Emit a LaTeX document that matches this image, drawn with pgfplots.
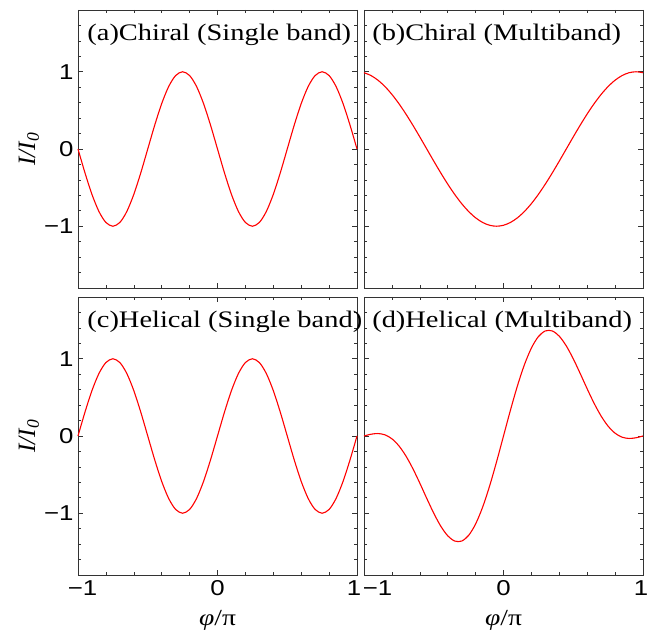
\documentclass[border=0pt]{standalone}
\usepackage{fontspec}
\setmainfont{Liberation Serif}
\newfontfamily\titlefont[FakeStretch=1.2]{Liberation Serif}
\newfontfamily\tickfont[FakeStretch=1.2]{Liberation Sans}
\usepackage{pgfplots}
\usepackage{pgfplotstable}
\pgfplotsset{compat=1.18}
\usepgfplotslibrary{groupplots}

\pgfplotstableread{
x      a         b         c         d
-1     0         0.98769   0         0
-0.95  -0.30902  0.95106   0.30902   0.02280
-0.9   -0.58779  0.89101   0.58779   0.03190
-0.85  -0.80902  0.80902   0.80902   0.01524
-0.8   -0.95106  0.70711   0.95106   -0.03618
-0.75  -1        0.58779   1         -0.12711
-0.7   -0.95106  0.45399   0.95106   -0.25741
-0.65  -0.80902  0.30902   0.80902   -0.42178
-0.6   -0.58779  0.15643   0.58779   -0.61014
-0.55  -0.30902  0         0.30902   -0.80846
-0.5   0         -0.15643  0         -1
-0.45  0.30902   -0.30902  -0.30902  -1.16692
-0.4   0.58779   -0.45399  -0.58779  -1.29198
-0.35  0.80902   -0.58779  -0.80902  -1.36024
-0.3   0.95106   -0.70711  -0.95106  -1.36063
-0.25  1         -0.80902  -1        -1.28711
-0.2   0.95106   -0.89101  -0.95106  -1.13940
-0.15  0.80902   -0.95106  -0.80902  -0.92322
-0.1   0.58779   -0.98769  -0.58779  -0.64994
-0.05  0.30902   -1        -0.30902  -0.33566
0      0         -0.98769  0         0
0.05   -0.30902  -0.95106  0.30902   0.33566
0.1    -0.58779  -0.89101  0.58779   0.64994
0.15   -0.80902  -0.80902  0.80902   0.92322
0.2    -0.95106  -0.70711  0.95106   1.13940
0.25   -1        -0.58779  1         1.28711
0.3    -0.95106  -0.45399  0.95106   1.36063
0.35   -0.80902  -0.30902  0.80902   1.36024
0.4    -0.58779  -0.15643  0.58779   1.29198
0.45   -0.30902  0         0.30902   1.16692
0.5    0         0.15643   0         1
0.55   0.30902   0.30902   -0.30902  0.80846
0.6    0.58779   0.45399   -0.58779  0.61014
0.65   0.80902   0.58779   -0.80902  0.42178
0.7    0.95106   0.70711   -0.95106  0.25741
0.75   1         0.80902   -1        0.12711
0.8    0.95106   0.89101   -0.95106  0.03618
0.85   0.80902   0.95106   -0.80902  -0.01524
0.9    0.58779   0.98769   -0.58779  -0.03190
0.95   0.30902   1         -0.30902  -0.02280
1      0         0.98769   0         0
}\datatable

\begin{document}
\begin{tikzpicture}
\begin{groupplot}[
  group style={group size=2 by 2, horizontal sep=7pt, vertical sep=9pt,
    x descriptions at=edge bottom, y descriptions at=edge left},
  width=279pt, height=278pt, scale only axis,
  xmin=-1, xmax=1, ymin=-1.8, ymax=1.8,
  xtick={-1,0,1}, ytick={-1,0,1},
  yticklabels={−1,0,1},
  minor xtick={-0.8,-0.6,-0.4,-0.2,0.2,0.4,0.6,0.8},
  minor ytick={-1.6,-1.4,-1.2,-0.8,-0.6,-0.4,-0.2,0.2,0.4,0.6,0.8,1.2,1.4,1.6},
  tick align=inside, major tick length=5pt, minor tick length=3pt,
  tick style={black!80, line width=0.6pt},
  axis line style={black!80, line width=0.8pt},
  tick label style={font=\tickfont\fontsize{21.5}{21.5}\selectfont},
  yticklabel style={xshift=-1pt},
  xticklabel style={yshift=-2pt, inner xsep=0pt},
  clip=false,
  mycurve/.style={red, line width=1.1pt, smooth, mark=none},
  xlabel style={font=\titlefont\fontsize{23}{23}\selectfont, at={(axis description cs:0.5,-0.165)}, anchor=center},
  ylabel style={font=\fontsize{25}{25}\selectfont, at={(axis description cs:-0.176,0.5)}, anchor=center},
]
\nextgroupplot[ylabel={\itshape I/I\textsubscript{0}}]
\addplot[mycurve] table[x=x,y=a]{\datatable};
\node[anchor=base west, font=\titlefont\fontsize{23.7}{23.7}\selectfont, inner sep=0pt] at (rel axis cs:0.033,0.892) {(a)Chiral (Single band)};
\nextgroupplot
\addplot[mycurve] table[x=x,y=b]{\datatable};
\node[anchor=base west, font=\titlefont\fontsize{23.7}{23.7}\selectfont, inner sep=0pt] at (rel axis cs:0.029,0.892) {(b)Chiral (Multiband)};
\nextgroupplot[ylabel={\itshape I/I\textsubscript{0}}, xlabel={{\itshape φ}/π},
  xticklabels={\hspace*{9pt}−1,0,1\hspace*{6pt}}]
\addplot[mycurve] table[x=x,y=c]{\datatable};
\node[anchor=base west, font=\titlefont\fontsize{23.7}{23.7}\selectfont, inner sep=0pt] at (rel axis cs:0.033,0.892) {(c)Helical (Single band)};
\nextgroupplot[xlabel={{\itshape φ}/π},
  xticklabels={\hspace*{27pt}−1,0,1\hspace*{4pt}}]
\addplot[mycurve] table[x=x,y=d]{\datatable};
\node[anchor=base west, font=\titlefont\fontsize{23.7}{23.7}\selectfont, inner sep=0pt] at (rel axis cs:0.029,0.892) {(d)Helical (Multiband)};
\end{groupplot}
\pgfresetboundingbox
\useasboundingbox (group c1r1.north west) ++(-78pt,10pt) rectangle ++(650pt,-636pt);
\end{tikzpicture}
\end{document}
